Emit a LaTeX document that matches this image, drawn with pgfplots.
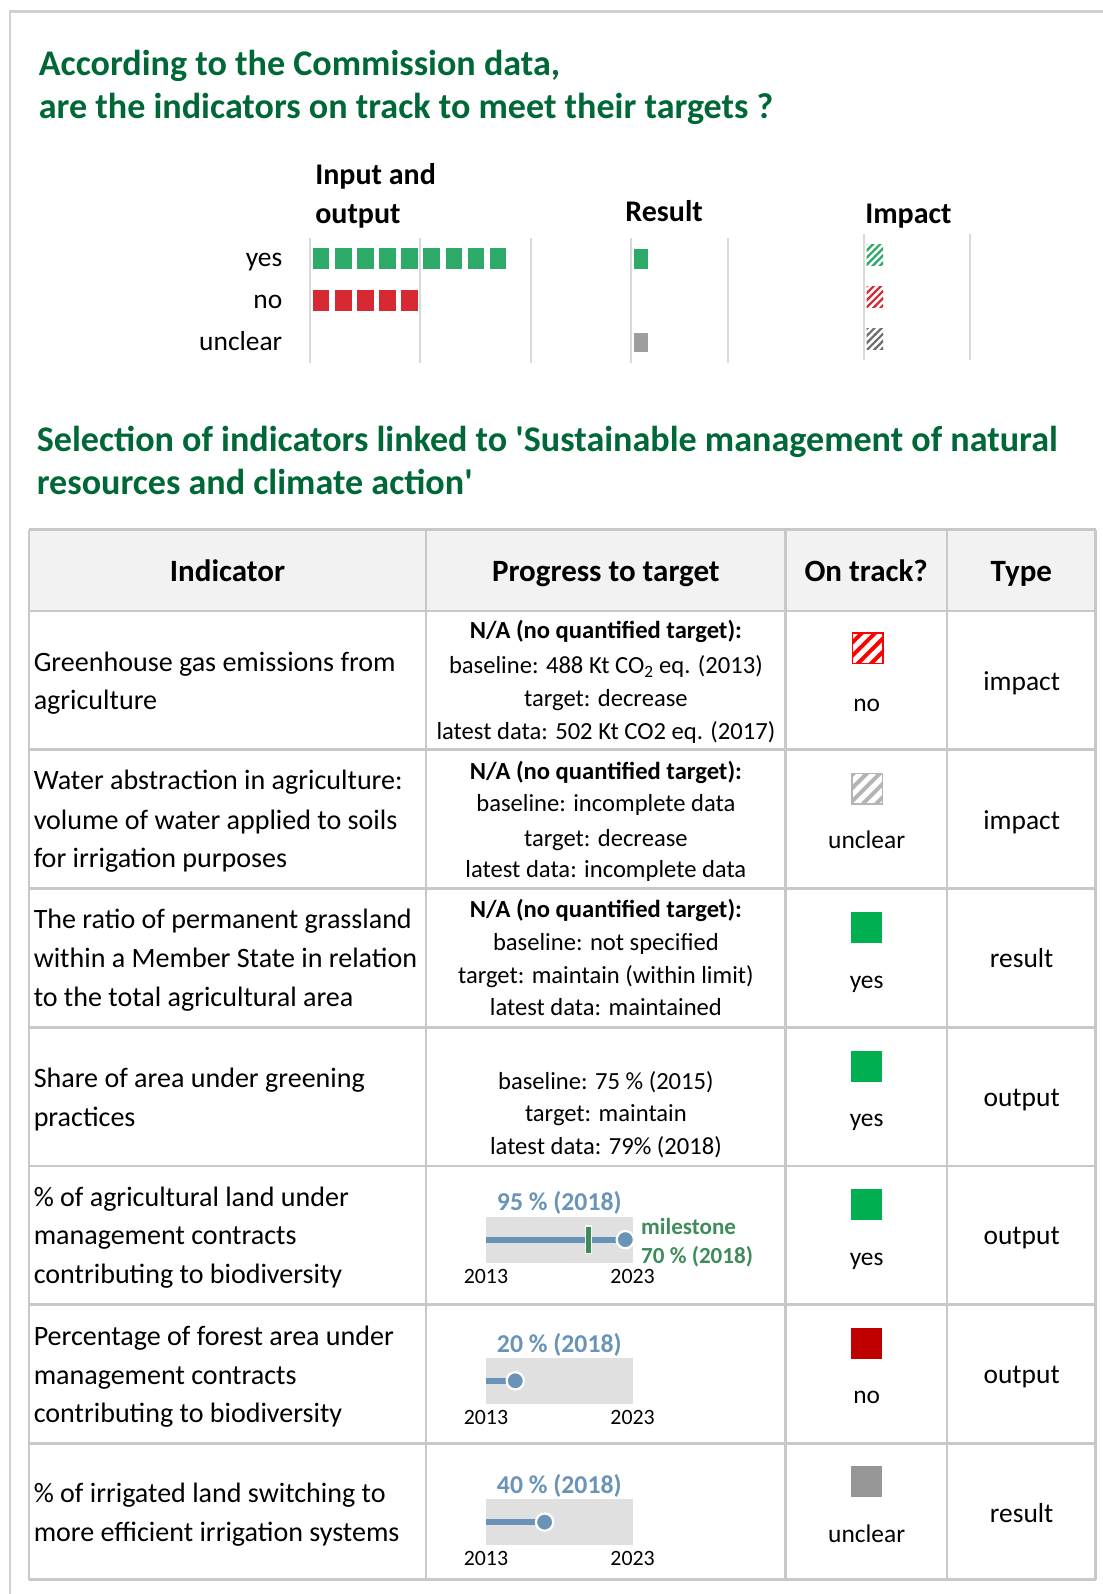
\documentclass[border=0pt]{standalone}
\usepackage{fontspec}
\setmainfont{Carlito}
\usepackage{pgfplots}
\pgfplotsset{compat=1.18}

\definecolor{ttlgreen}{RGB}{0,104,55}
\definecolor{topgreen}{RGB}{46,170,104}
\definecolor{topred}{RGB}{214,41,50}
\definecolor{topgray}{RGB}{158,158,158}
\definecolor{hatgray}{RGB}{110,110,110}
\definecolor{tabgreen}{RGB}{0,176,80}
\definecolor{tabred}{RGB}{192,0,0}
\definecolor{tabgray}{RGB}{150,150,150}
\definecolor{hatred}{RGB}{255,0,0}
\definecolor{hatgray2}{RGB}{180,180,180}
\definecolor{pbblue}{RGB}{106,147,184}
\definecolor{pbgreen}{RGB}{63,140,90}
\definecolor{pbbg}{RGB}{224,224,224}
\definecolor{gridc}{RGB}{217,217,217}
\definecolor{linec}{RGB}{200,200,200}
\definecolor{framec}{RGB}{208,208,208}
\definecolor{headc}{RGB}{242,242,242}

% hatch patterns (form only, colour given on use)
\pgfdeclarepatternformonly{thinhatch}{\pgfqpoint{-1pt}{-1pt}}{\pgfqpoint{8pt}{8pt}}{\pgfqpoint{7pt}{7pt}}{%
  \pgfsetlinewidth{2.2pt}%
  \pgfpathmoveto{\pgfqpoint{-0.5pt}{-0.5pt}}\pgfpathlineto{\pgfqpoint{7.5pt}{7.5pt}}\pgfusepath{stroke}}
\pgfdeclarepatternformonly{widehatch}{\pgfqpoint{-2pt}{-2pt}}{\pgfqpoint{15pt}{15pt}}{\pgfqpoint{13pt}{13pt}}{%
  \pgfsetlinewidth{5pt}%
  \pgfpathmoveto{\pgfqpoint{-1pt}{-1pt}}\pgfpathlineto{\pgfqpoint{14pt}{14pt}}\pgfusepath{stroke}}

% hatched marks of the small impact chart
\newcommand{\thinmark}[2]{%
  \pgfdeclareplotmark{#1}{%
    \pgfpathrectangle{\pgfqpoint{-8.2pt}{-10pt}}{\pgfqpoint{16.4pt}{20pt}}%
    \pgfsetfillpattern{thinhatch}{#2}\pgfusepath{fill}}}
\thinmark{hatchG}{topgreen}
\thinmark{hatchR}{topred}
\thinmark{hatchK}{hatgray}
% hatched squares of the table
\newcommand{\widemark}[2]{%
  \pgfdeclareplotmark{#1}{%
    \pgfpathrectangle{\pgfqpoint{-15.5pt}{-15.5pt}}{\pgfqpoint{31pt}{31pt}}%
    \pgfsetfillcolor{#2}\pgfusepath{fill}%
    \pgfpathrectangle{\pgfqpoint{-15.5pt}{-15.5pt}}{\pgfqpoint{31pt}{31pt}}%
    \pgfsetfillpattern{widehatch}{white}\pgfusepath{fill}%
    \pgfpathrectangle{\pgfqpoint{-15pt}{-15pt}}{\pgfqpoint{30pt}{30pt}}%
    \pgfsetlinewidth{1.5pt}\pgfsetstrokecolor{#2}\pgfusepath{stroke}}}
\widemark{wideR}{hatred}
\widemark{wideK}{hatgray2}

\tikzset{
  ttl/.style={inner sep=0pt, yshift=-3pt, text=ttlgreen, font=\fontsize{35.5}{40}\selectfont\bfseries, text height=22.9pt, text depth=7.1pt},
  hd/.style={inner sep=0pt, yshift=-3pt, font=\fontsize{29.5}{34}\selectfont\bfseries, text height=19pt, text depth=5.9pt},
  th/.style={inner sep=0pt, yshift=-2.5pt, font=\fontsize{30.5}{34}\selectfont\bfseries, text height=19.6pt, text depth=6.1pt},
  it/.style={inner sep=0pt, yshift=-2.5pt, anchor=west, font=\fontsize{27.6}{32}\selectfont, text height=17.8pt, text depth=5.5pt},
  pg/.style={inner sep=0pt, yshift=-2pt, font=\fontsize{24.2}{28}\selectfont, text height=15.6pt, text depth=4.8pt},
  pgb/.style={pg, font=\fontsize{24.2}{28}\selectfont\bfseries},
  ot/.style={inner sep=0pt, yshift=-2.5pt, font=\fontsize{25}{29}\selectfont, text height=16.1pt, text depth=5pt},
  ty/.style={inner sep=0pt, yshift=-2.5pt, font=\fontsize{27}{31}\selectfont, text height=17.4pt, text depth=5.4pt},
  pv/.style={inner sep=0pt, yshift=-2pt, text=pbblue, font=\fontsize{25.3}{29}\selectfont\bfseries, text height=16.3pt, text depth=5.1pt},
  pm/.style={inner sep=0pt, yshift=-2pt, anchor=west, text=pbgreen, font=\fontsize{22.7}{26}\selectfont\bfseries, text height=14.6pt, text depth=4.5pt},
}

\pgfplotsset{
  mini/.style={
    anchor=south west, clip=false,
    axis line style={draw=none}, major tick length=0pt,
    xmajorgrids, grid style={gridc, line width=2pt},
    xticklabels={}, ytick={1,2,3}, yticklabels={},
    ymin=0.5, ymax=3.5, y=41.2pt,
  },
  pbar/.style={
    anchor=south west, clip=false, x=1.443pt, y=45.4pt,
    xmin=0, xmax=100, ymin=0, ymax=1,
    axis line style={draw=none}, major tick length=0pt,
    axis background/.style={fill=pbbg},
    xtick={0,100}, xticklabels={2013,2023}, ytick=\empty,
    xticklabel style={anchor=center, inner sep=0pt, yshift=-15.5pt,
      font=\fontsize{21.5}{24}\selectfont, text height=13.8pt, text depth=4.3pt},
  },
}

\begin{document}
\begin{tikzpicture}
\begin{axis}[x=1pt, y=1pt, xmin=0, xmax=1085, ymin=0, ymax=1568,
  y dir=reverse, hide axis, clip=false, anchor=south west]

% frame
\draw[framec, line width=2.5pt] (axis cs:9.8,1600) |- (axis cs:1120,11.2);

% titles
\node[ttl, anchor=west] at (axis cs:38,63) {According to the Commission data,};
\node[ttl, anchor=west] at (axis cs:38,106) {are the indicators on track to meet their targets ?};
\node[ttl, anchor=west] at (axis cs:36,433) {Selection of indicators linked to \textquotesingle Sustainable management of natural};
\node[ttl, anchor=west] at (axis cs:36,476) {resources and climate action\textquotesingle};

% small chart headers
\node[hd, anchor=west] at (axis cs:310,172) {Input and};
\node[hd, anchor=west] at (axis cs:310,210) {output};
\node[hd, anchor=west] at (axis cs:615,208) {Result};
\node[hd, anchor=west] at (axis cs:851,210) {Impact};

% table
\fill[headc] (axis cs:28.6,521) rectangle (axis cs:1078,601);
\pgfplotsinvokeforeach{521,601,737.5,874,1010.5,1147,1283.5,1420,1554}
  {\draw[linec, line width=2.8pt] (axis cs:28.6,#1) -- (axis cs:1078,#1);}
\pgfplotsinvokeforeach{28.6,419,773,931.5,1078}
  {\draw[linec, line width=2.8pt] (axis cs:#1,521) -- (axis cs:#1,1554);}

\node[th] at (axis cs:223.8,563) {Indicator};
\node[th] at (axis cs:596,563) {Progress to target};
\node[th] at (axis cs:852,563) {On track?};
\node[th] at (axis cs:1004.7,563) {Type};

% indicator column
\node[it] at (axis cs:33,652) {Greenhouse gas emissions from};
\node[it] at (axis cs:33,689) {agriculture};
\node[it] at (axis cs:33,768) {Water abstraction in agriculture:};
\node[it] at (axis cs:33,807) {volume of water applied to soils};
\node[it] at (axis cs:33,845) {for irrigation purposes};
\node[it] at (axis cs:33,905) {The ratio of permanent grassland};
\node[it] at (axis cs:33,943) {within a Member State in relation};
\node[it] at (axis cs:33,981) {to the total agricultural area};
\node[it] at (axis cs:33,1061) {Share of area under greening};
\node[it] at (axis cs:33,1099) {practices};
\node[it] at (axis cs:33,1178) {\% of agricultural land under};
\node[it] at (axis cs:33,1216) {management contracts};
\node[it] at (axis cs:33,1254) {contributing to biodiversity};
\node[it] at (axis cs:33,1315) {Percentage of forest area under};
\node[it] at (axis cs:33,1353) {management contracts};
\node[it] at (axis cs:33,1391) {contributing to biodiversity};
\node[it] at (axis cs:33,1469) {\% of irrigated land switching to};
\node[it] at (axis cs:33,1508) {more efficient irrigation systems};

% progress column (text rows)
\node[pgb] at (axis cs:596,621) {N/A (no quantified target):};
\node[pg] at (axis cs:596,655) {baseline: 488 Kt CO\textsubscript{2} eq. (2013)};
\node[pg] at (axis cs:596,688) {target: decrease};
\node[pg] at (axis cs:596,720) {latest data: 502 Kt CO2 eq. (2017)};
\node[pgb] at (axis cs:596,759) {N/A (no quantified target):};
\node[pg] at (axis cs:596,791) {baseline: incomplete data};
\node[pg] at (axis cs:596,825) {target: decrease};
\node[pg] at (axis cs:596,856) {latest data: incomplete data};
\node[pgb] at (axis cs:596,895) {N/A (no quantified target):};
\node[pg] at (axis cs:596,928) {baseline: not specified};
\node[pg] at (axis cs:596,960) {target: maintain (within limit)};
\node[pg] at (axis cs:596,992) {latest data: maintained};
\node[pg] at (axis cs:596,1064) {baseline: 75 \% (2015)};
\node[pg] at (axis cs:596,1096) {target: maintain};
\node[pg] at (axis cs:596,1128) {latest data: 79\% (2018)};

% on track column
\addplot[only marks, mark=wideR] coordinates {(853.7,637.6)};
\addplot[only marks, mark=wideK] coordinates {(852.9,776)};
\addplot[only marks, mark=square*, mark size=14.8pt,
  mark options={fill=tabgreen, draw=tabgreen, line width=0.5pt}]
  coordinates {(852,912) (852,1048.5) (852,1185)};
\addplot[only marks, mark=square*, mark size=14.8pt,
  mark options={fill=tabred, draw=tabred, line width=0.5pt}]
  coordinates {(852,1321)};
\addplot[only marks, mark=square*, mark size=14.8pt,
  mark options={fill=tabgray, draw=tabgray, line width=0.5pt}]
  coordinates {(852,1457.5)};

\node[ot] at (axis cs:852.5,691.8) {no};
\node[ot] at (axis cs:852.5,827) {unclear};
\node[ot] at (axis cs:852.5,964) {yes};
\node[ot] at (axis cs:852.5,1100) {yes};
\node[ot] at (axis cs:852.5,1237) {yes};
\node[ot] at (axis cs:852.5,1373) {no};
\node[ot] at (axis cs:852.5,1509) {unclear};

% type column
\node[ty] at (axis cs:1005,670.5) {impact};
\node[ty] at (axis cs:1005,807.3) {impact};
\node[ty] at (axis cs:1005,943) {result};
\node[ty] at (axis cs:1005,1080) {output};
\node[ty] at (axis cs:1005,1216) {output};
\node[ty] at (axis cs:1005,1352) {output};
\node[ty] at (axis cs:1005,1489) {result};

\coordinate (inA) at (axis cs:304.9,357.4);
\coordinate (reA) at (axis cs:620.4,357.4);
\coordinate (imA) at (axis cs:850.2,354);
\coordinate (pb1) at (axis cs:478,1242.1);
\coordinate (pb2) at (axis cs:478,1381);
\coordinate (pb3) at (axis cs:478,1520);
\coordinate (BL) at (axis cs:0,1568);
\coordinate (TR) at (axis cs:1085,0);
\end{axis}

% input and output: one square per indicator
\begin{axis}[mini, at={(inA)}, x=21.74pt, xmin=0, xmax=10, xtick={0,5,10},
  yticklabels={unclear,no,yes},
  yticklabel style={anchor=east, inner sep=0pt, xshift=-27pt, yshift=-2pt,
    font=\fontsize{27}{31}\selectfont, text height=17.4pt, text depth=5.4pt}]
\addplot[only marks, mark=square*, mark size=10.75pt,
  mark options={xscale=0.80, fill=topgreen, draw=white, line width=0.6pt}]
  coordinates {(0.5,3) (1.5,3) (2.5,3) (3.5,3) (4.5,3) (5.5,3) (6.5,3) (7.5,3) (8.5,3)};
\addplot[only marks, mark=square*, mark size=10.75pt,
  mark options={xscale=0.80, fill=topred, draw=white, line width=0.6pt}]
  coordinates {(0.5,2) (1.5,2) (2.5,2) (3.5,2) (4.5,2)};
\end{axis}

% result
\begin{axis}[mini, at={(reA)}, x=19.08pt, xmin=0, xmax=5, xtick={0,5}]
\addplot[only marks, mark=square*, mark size=10.5pt,
  mark options={xscale=0.70, fill=topgreen, draw=white, line width=0.6pt}]
  coordinates {(0.5,3)};
\addplot[only marks, mark=square*, mark size=10pt,
  mark options={xscale=0.74, fill=topgray, draw=white, line width=0.6pt}]
  coordinates {(0.5,1)};
\end{axis}

% impact
\begin{axis}[mini, at={(imA)}, x=20.8pt, xmin=0, xmax=5, xtick={0,5}]
\addplot[only marks, mark=hatchG] coordinates {(0.5,3)};
\addplot[only marks, mark=hatchR] coordinates {(0.5,2)};
\addplot[only marks, mark=hatchK] coordinates {(0.5,1)};
\end{axis}

% progress bars (percent of target reached)
\begin{axis}[pbar, at={(pb1)}]
\addplot[pbblue, line width=6pt] coordinates {(0,0.5) (95,0.5)};
\addplot[only marks, mark=square*, mark size=13.5pt,
  mark options={xscale=0.22, fill=pbgreen, draw=white, line width=1.2pt}]
  coordinates {(70,0.5)};
\addplot[only marks, mark=*, mark size=8.5pt,
  mark options={fill=pbblue, draw=white, line width=2.2pt}]
  coordinates {(95,0.5)};
\node[pv] at (axis cs:50,1) [yshift=13.2pt] {95 \% (2018)};
\node[pm] at (axis cs:100,0.77) [xshift=8.2pt] {milestone};
\node[pm] at (axis cs:100,0.14) [xshift=8.2pt] {70 \% (2018)};
\end{axis}

\begin{axis}[pbar, at={(pb2)}]
\addplot[pbblue, line width=6pt] coordinates {(0,0.5) (20,0.5)};
\addplot[only marks, mark=*, mark size=8.5pt,
  mark options={fill=pbblue, draw=white, line width=2.2pt}]
  coordinates {(20,0.5)};
\node[pv] at (axis cs:50,1) [yshift=13.2pt] {20 \% (2018)};
\end{axis}

\begin{axis}[pbar, at={(pb3)}]
\addplot[pbblue, line width=6pt] coordinates {(0,0.5) (40,0.5)};
\addplot[only marks, mark=*, mark size=8.5pt,
  mark options={fill=pbblue, draw=white, line width=2.2pt}]
  coordinates {(40,0.5)};
\node[pv] at (axis cs:50,1) [yshift=13.2pt] {40 \% (2018)};
\end{axis}

\pgfresetboundingbox
\path[use as bounding box] (BL) rectangle (TR);
\end{tikzpicture}
\end{document}
